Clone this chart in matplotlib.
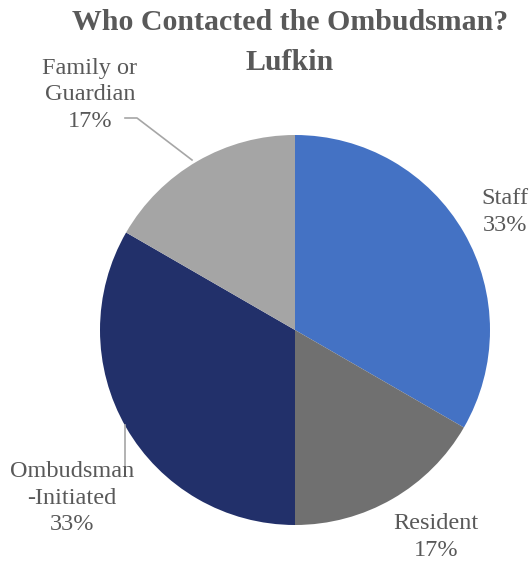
import matplotlib.pyplot as plt

# data
labels = ['Staff', 'Resident', 'Ombudsman\n-Initiated', 'Family or\nGuardian']
counts = [2, 1, 2, 1]
colors = ['#4472C4', '#707070', '#22306A', '#A5A5A5']
title_lines = ['Who Contacted the Ombudsman?', 'Lufkin']

W, H = 530, 566
fig = plt.figure(figsize=(W / 100, H / 100), dpi=100)
ax = fig.add_axes([0, 0, 1, 1])

serif = ['Liberation Serif', 'DejaVu Serif']
txt_col = '#595959'

# pie, clockwise from 12 o'clock
ax.pie(counts, colors=colors, startangle=90, counterclock=False,
       center=(295, H - 330), radius=195, frame=True,
       wedgeprops=dict(linewidth=0))
ax.set_xlim(0, W)
ax.set_ylim(0, H)
ax.set_aspect('equal')
ax.axis('off')

pct = [round(100 * c / sum(counts)) for c in counts]
label_pos = [(505, 212), (436, 537), (72, 498), (90, 95)]
for lab, p, (x, y) in zip(labels, pct, label_pos):
    ax.text(x, H - y, f'{lab}\n{p}%', ha='center', va='center',
            fontsize=17.5, color=txt_col, family=serif, linespacing=1.32)

# leader lines
ax.plot([125, 137, 192], [H - 118, H - 118, H - 160], color='#A6A6A6', lw=1.2)
ax.plot([125, 125], [H - 425, H - 470], color='#A6A6A6', lw=1.2)

# title, one text per line
for line, y in zip(title_lines, [22, 62]):
    fig.text(0.547, 1 - y / H, line, ha='center', va='center',
             fontsize=21.5, fontweight='bold', color=txt_col, family=serif)

fig.savefig('out.png', dpi=100)
